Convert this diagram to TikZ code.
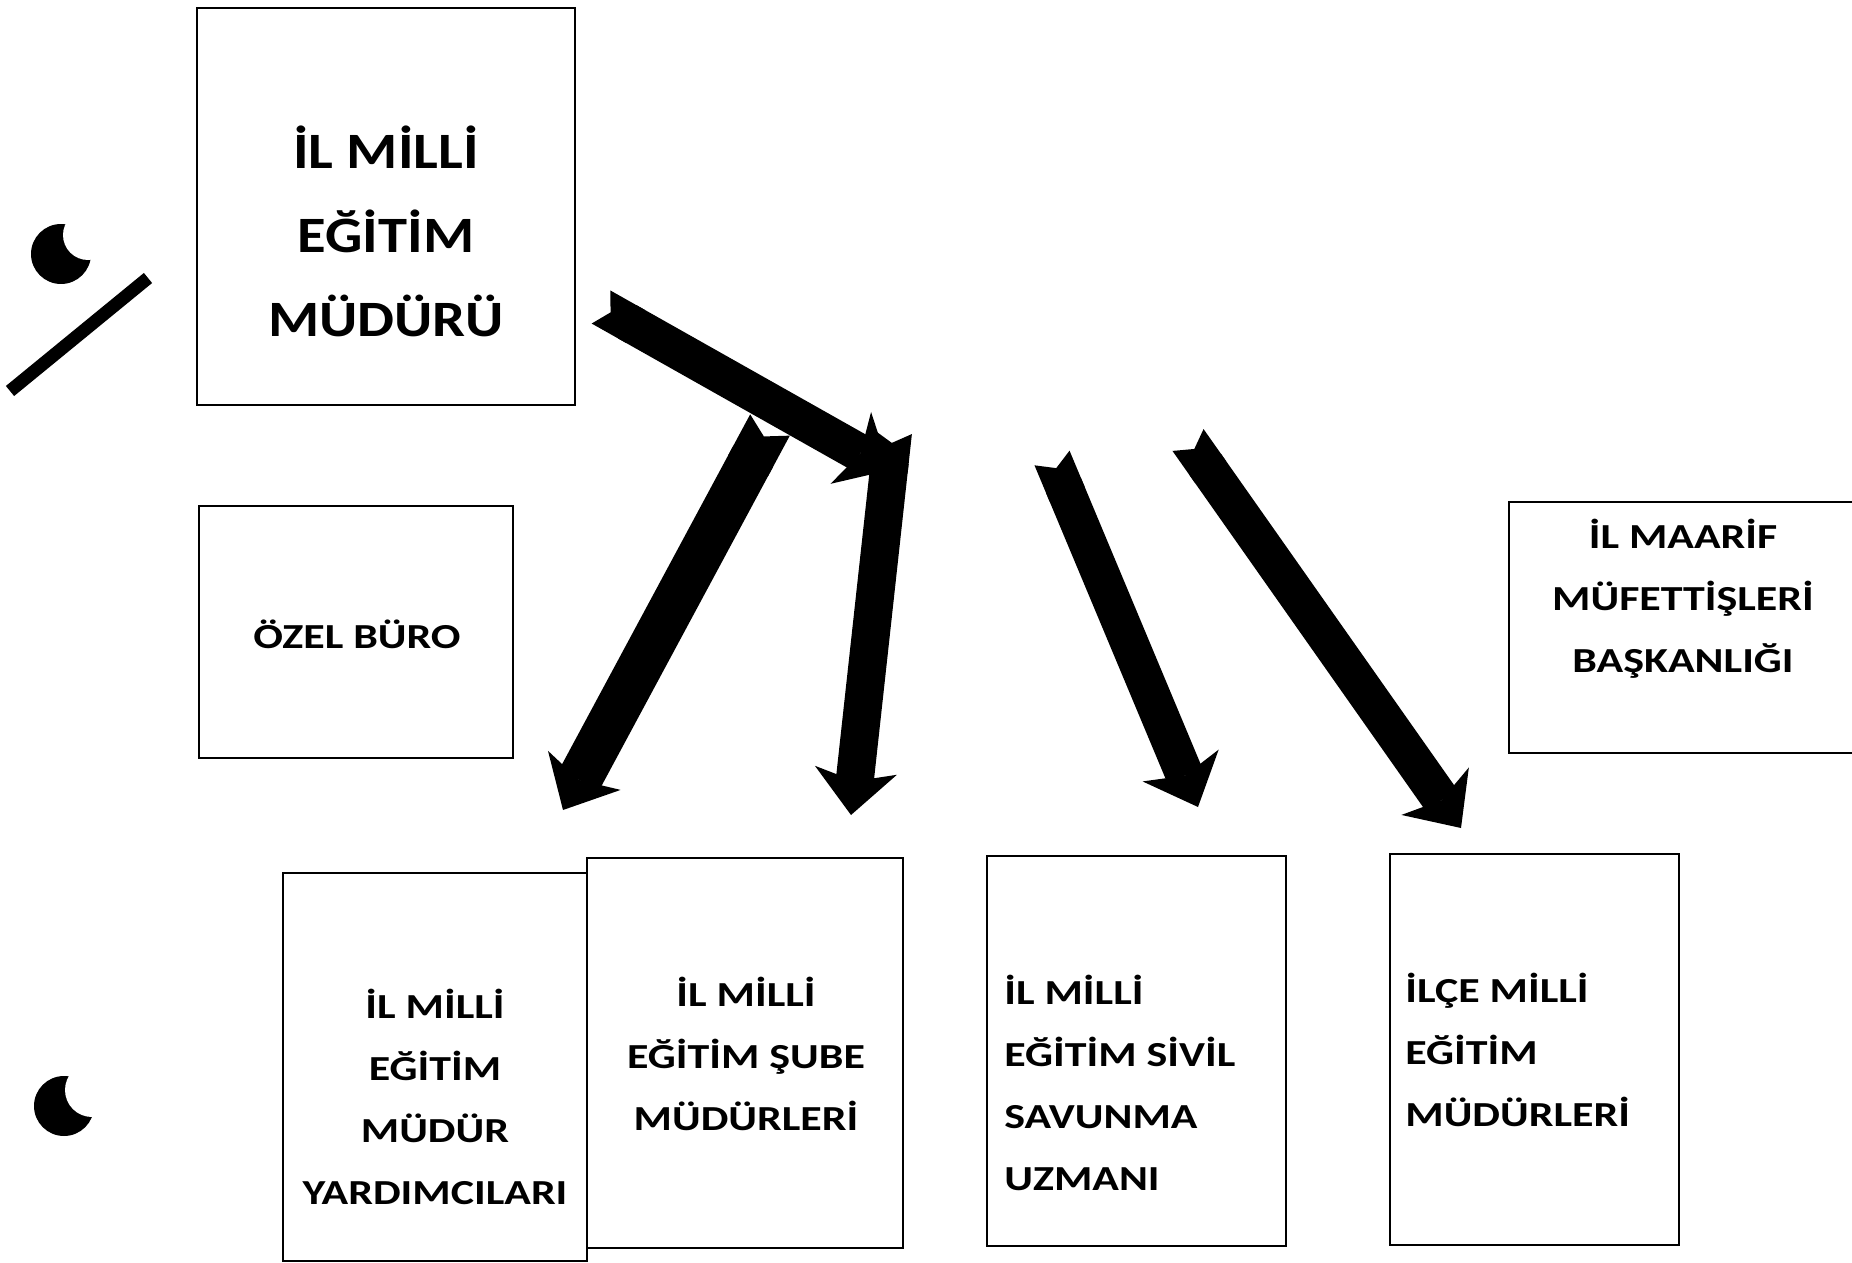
\documentclass[tikz,border=0pt]{standalone}
\usepackage{fontspec}
\setmainfont{Carlito}
\newfontfamily\bigfont[FakeStretch=1.15]{Carlito}
\newfontfamily\smallfont[FakeStretch=1.25]{Carlito}
\usetikzlibrary{arrows.meta,positioning}
\tikzset{%
	block/.style     = {draw, rectangle, line width=1.1pt, inner sep=0pt}, % Box
	bigtext/.style   = {inner sep=0pt, align=center, font=\fontsize{29}{47.8}\bigfont\bfseries},
	smalltext/.style = {inner sep=0pt, align=center, font=\fontsize{20}{35.3}\smallfont\bfseries},
	lefttext/.style  = {smalltext, align=left, anchor=west},
	bigarrow/.style  = {line width=0.76cm, {Triangle Cap[reversed, cap angle=120]}-{Stealth[length=0.9cm, width=1.65cm, inset=0.22cm, line width=0pt]}},
}

\begin{document}
\begin{tikzpicture}[x=0.02cm, y=-0.02cm]
	\useasboundingbox (0,0) rectangle (1852,1263);
	% boxes
	\node [block, minimum width=7.56cm, minimum height=7.94cm] (mudur) at (386,206.5) {};
	\node [block, minimum width=6.28cm, minimum height=5.04cm] (ozel) at (356,632) {};
	\node [block, minimum width=7.22cm, minimum height=5.02cm] (maarif) at (1689.5,627.5) {};
	\node [block, minimum width=6.08cm, minimum height=7.76cm] (yardimci) at (435,1067) {};
	\node [block, minimum width=6.32cm, minimum height=7.8cm] (sube) at (745,1053) {};
	\node [block, minimum width=5.98cm, minimum height=7.8cm] (sivil) at (1136.5,1051) {};
	\node [block, minimum width=5.78cm, minimum height=7.82cm] (ilce) at (1534.5,1049.5) {};
	% texts
	\node [bigtext] (mudurtxt) at (386,231) {İL MİLLİ\\EĞİTİM\\MÜDÜRÜ};
	\node [smalltext] (ozeltxt) at (357,634) {ÖZEL BÜRO};
	\node [smalltext] (maariftxt) at (1683,599) {İL MAARİF\\MÜFETTİŞLERİ\\BAŞKANLIĞI};
	\node [smalltext] (yardimcitxt) at (435,1097) {İL MİLLİ\\EĞİTİM\\MÜDÜR\\YARDIMCILARI};
	\node [smalltext] (subetxt) at (746,1054) {İL MİLLİ\\EĞİTİM ŞUBE\\MÜDÜRLERİ};
	\node [lefttext] (siviltxt) at (1004,1083) {İL MİLLİ\\EĞİTİM SİVİL\\SAVUNMA\\UZMANI};
	\node [lefttext] (ilcetxt) at (1405,1050) {İLÇE MİLLİ\\EĞİTİM\\MÜDÜRLERİ};
	% arrows
	\coordinate (a0s) at (601,307);  \coordinate (a0e) at (890,470);
	\coordinate (a1s) at (770,425);  \coordinate (a1e) at (563,810);
	\coordinate (a2s) at (893,432);  \coordinate (a2e) at (851,815);
	\coordinate (a3s) at (1052,458); \coordinate (a3e) at (1198,807);
	\coordinate (a4s) at (1188,440); \coordinate (a4e) at (1461,828);
	\draw[bigarrow] (a0s) -- (a0e);
	\draw[bigarrow, line width=0.9cm] (a1s) -- (a1e);
	\draw[bigarrow] (a2s) -- (a2e);
	\draw[bigarrow] (a3s) -- (a3e);
	\draw[bigarrow] (a4s) -- (a4e);
	% marks on the left
	\fill (61,254) circle[radius=0.6cm];
	\fill[white] (88,235) circle[radius=0.5cm];
	\draw[line width=0.26cm] (10,391) -- (148,278);
	\fill (64,1106) circle[radius=0.6cm];
	\fill[white] (92,1090) circle[radius=0.54cm];
\end{tikzpicture}
\end{document}
